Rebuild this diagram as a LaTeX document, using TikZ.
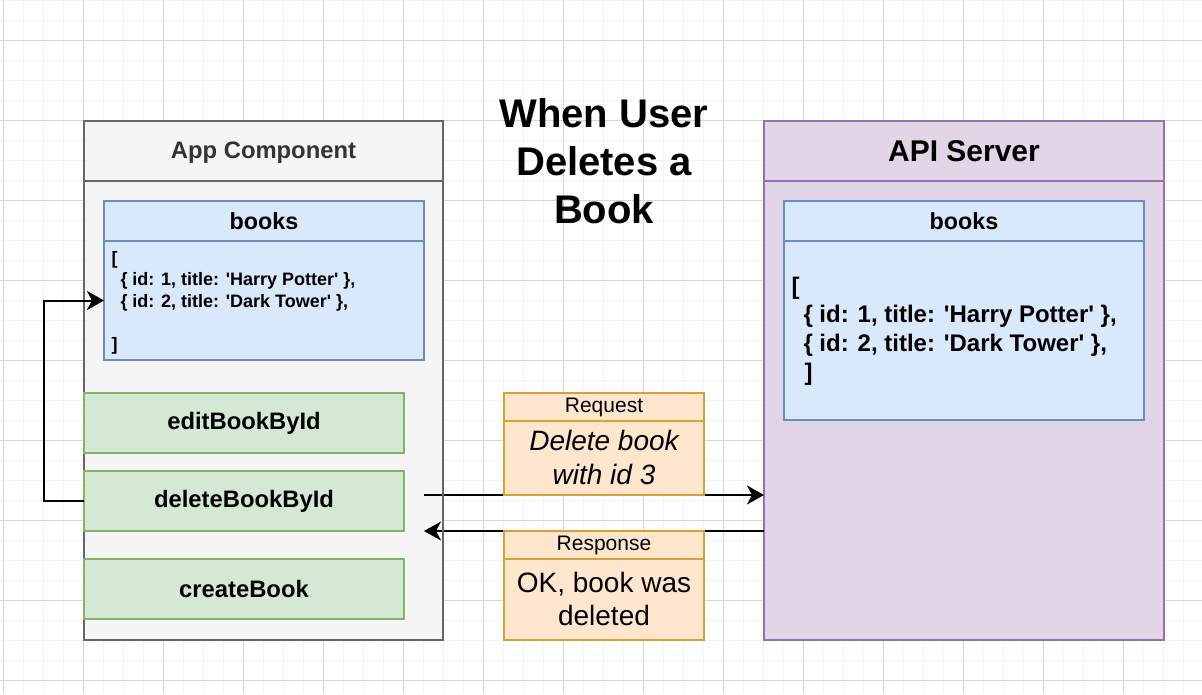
\documentclass[tikz,border=0pt]{standalone}
\usepackage{fontspec}
\newfontfamily\diagfont{Liberation Sans}
\usetikzlibrary{arrows.meta}
\definecolor{gridminor}{HTML}{F3F3F3}
\definecolor{gridmajor}{HTML}{D6D6D6}
\definecolor{appfill}{HTML}{F5F5F5}
\definecolor{appline}{HTML}{666666}
\definecolor{apptext}{HTML}{333333}
\definecolor{bluefill}{HTML}{DAE8FC}
\definecolor{blueline}{HTML}{6C8EBF}
\definecolor{greenfill}{HTML}{D5E8D4}
\definecolor{greenline}{HTML}{82B366}
\definecolor{orangefill}{HTML}{FFE6CC}
\definecolor{orangeline}{HTML}{D6A03A}
\definecolor{purplefill}{HTML}{E1D5E7}
\definecolor{purpleline}{HTML}{9673A6}
\newcommand{\leftlines}[1]{\vtop{\halign{##\hfil\cr#1\cr}}}
\newcommand{\centerlines}[1]{\vtop{\halign{\hfil##\hfil\cr#1\cr}}}
\newcommand{\fsz}[1]{\fontsize{#1}{1.2\dimexpr#1pt\relax}\selectfont}
\begin{document}
\begin{tikzpicture}[x=1pt,y=-1pt,
  every node/.style={font=\diagfont},
  shapebox/.style={draw, rectangle, inner sep=0pt, outer sep=0pt, line width=1.8pt, anchor=north west},
  appbox/.style={shapebox, fill=appfill, draw=appline, text=apptext},
  bluebox/.style={shapebox, fill=bluefill, draw=blueline},
  greenbox/.style={shapebox, fill=greenfill, draw=greenline, font=\diagfont\bfseries\fsz{23.8}},
  orangebox/.style={shapebox, fill=orangefill, draw=orangeline},
  purplebox/.style={shapebox, fill=purplefill, draw=purpleline},
  txt/.style={inner sep=0pt, outer sep=0pt},
  conn/.style={line width=2pt, -{Stealth[length=17pt,width=19pt,inset=5pt]}},
  plain/.style={line width=2pt}
]
\useasboundingbox (0,0) rectangle (1202,694);
\fill[white] (0,0) rectangle (1202,694);
% grid
\foreach \x in {3,23,...,1203} \draw[gridminor, line width=1pt] (\x,0) -- (\x,694);
\foreach \y in {0,20,...,690} \draw[gridminor, line width=1pt] (0,\y) -- (1202,\y);
\foreach \x in {3,83,...,1203} \draw[gridmajor, line width=1pt] (\x,0) -- (\x,694);
\foreach \y in {40,120,...,690} \draw[gridmajor, line width=1pt] (0,\y) -- (1202,\y);

% title
\node[txt, anchor=base, font=\diagfont\bfseries\fsz{40}] (title) at (604,127)
  {\centerlines{When User\cr Deletes a\cr Book}};

% App component
\node[appbox, minimum width=359pt, minimum height=459pt] (appbody) at (84,181) {};
\node[appbox, minimum width=359pt, minimum height=60pt, font=\diagfont\bfseries\fsz{23.8}, text depth=1.5pt] (apphead) at (84,121) {App Component};

\node[bluebox, minimum width=320pt, minimum height=119pt] (lbooks) at (104,241) {};
\node[bluebox, minimum width=320pt, minimum height=40pt, font=\diagfont\bfseries\fsz{23.3}] (lbookshead) at (104,201) {books};
\node[txt, anchor=base west, font=\diagfont\bfseries\fsz{18}] (lbookstext) at (111.5,264.3)
  {\leftlines{[\cr\hspace*{9pt}\{ id: 1, title: 'Harry Potter' \},\cr\hspace*{9pt}\{ id: 2, title: 'Dark Tower' \},\cr\cr ]}};

\node[greenbox, minimum width=320pt, minimum height=60pt] (edit) at (84,393) {editBookById};
\node[greenbox, minimum width=320pt, minimum height=60pt] (delete) at (84,471) {deleteBookById};
\node[greenbox, minimum width=320pt, minimum height=60pt] (create) at (84,559) {createBook};

% API server
\node[purplebox, minimum width=400pt, minimum height=459pt] (apibody) at (764,181) {};
\node[purplebox, minimum width=400pt, minimum height=60pt, font=\diagfont\bfseries\fsz{30}] (apihead) at (764,121) {API Server};

\node[bluebox, minimum width=360pt, minimum height=179pt] (rbooks) at (784,241) {};
\node[bluebox, minimum width=360pt, minimum height=40pt, font=\diagfont\bfseries\fsz{23.3}] (rbookshead) at (784,201) {books};
\node[txt, anchor=base west, font=\diagfont\bfseries\fsz{24}] (rbookstext) at (791.5,294)
  {\leftlines{[\cr\hspace*{12pt}\{ id: 1, title: 'Harry Potter' \},\cr\hspace*{12pt}\{ id: 2, title: 'Dark Tower' \},\cr\hspace*{13pt}]}};

% connectors
\coordinate (reqstart) at (424,495);
\coordinate (resend) at (424,531);
\draw[conn] (reqstart) -- (reqstart -| apibody.west);
\draw[conn] (resend -| apibody.west) -- (resend);
\draw[conn] (delete.west) -- ++(-40,0) |- (lbooks.west);
\draw[appline, line width=1.8pt] (apphead.north east) -- (appbody.south east);

% request / response
\node[orangebox, minimum width=200pt, minimum height=74pt] (reqbody) at (504,421) {};
\node[orangebox, minimum width=200pt, minimum height=28pt, font=\diagfont\fsz{21}] (reqhead) at (504,393) {Request};
\node[txt, anchor=base, font=\diagfont\itshape\fsz{28}] (reqtext) at (604,450.7)
  {\centerlines{Delete book\cr with id 3}};

\node[orangebox, minimum width=200pt, minimum height=81pt] (resbody) at (504,559) {};
\node[orangebox, minimum width=200pt, minimum height=28pt, font=\diagfont\fsz{21}] (reshead) at (504,531) {Response};
\node[txt, anchor=base, font=\diagfont\fsz{28}] (restext) at (604,592.3)
  {\centerlines{OK, book was\cr deleted}};
\end{tikzpicture}
\end{document}
